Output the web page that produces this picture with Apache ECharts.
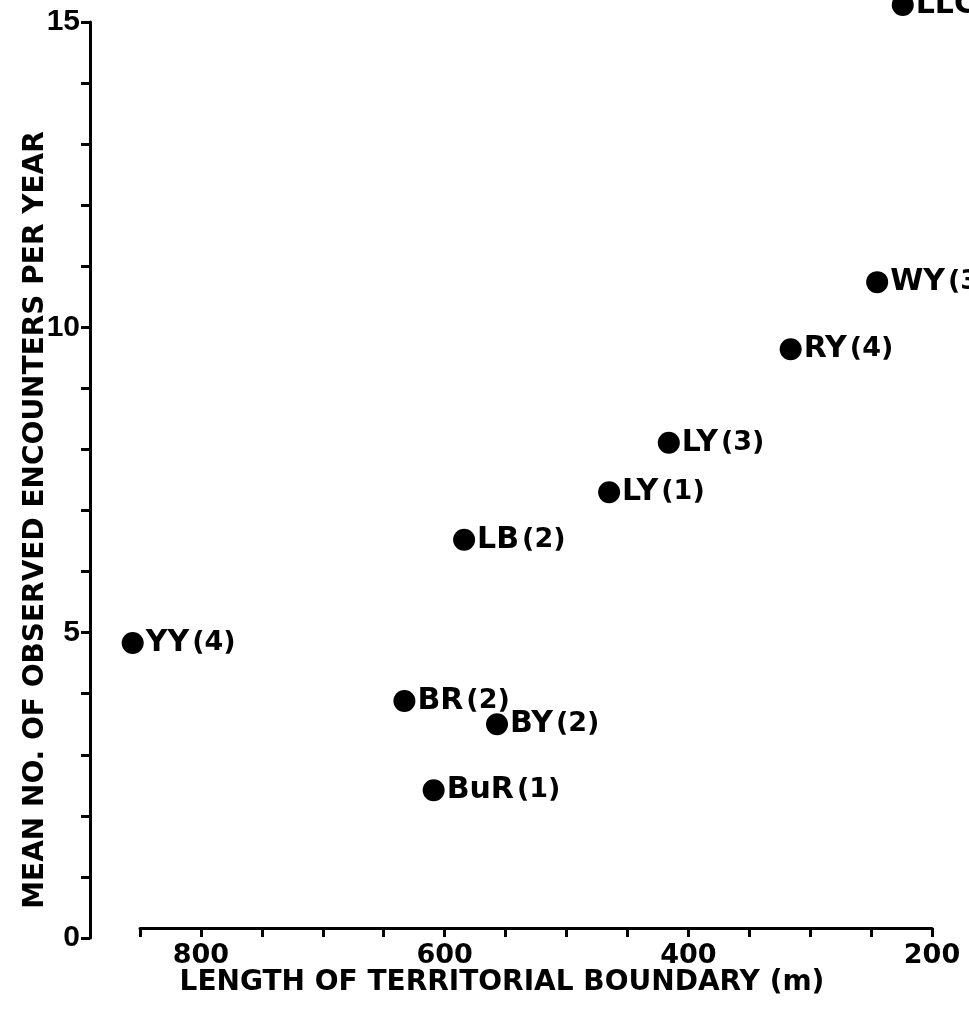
<!DOCTYPE html>
<html>
<head>
<meta charset="utf-8">
<style>
  html, body { margin: 0; padding: 0; background: #fff; }
  #chart { width: 969px; height: 1022px; }
</style>
<script src="https://cdn.jsdelivr.net/npm/echarts@6/dist/echarts.min.js"></script>
</head>
<body>
<div id="chart"></div>
<script>
// Territory codes, boundary length (m), mean encounters per year, and number of years
const territories = ['LLC', 'WY', 'RY', 'LY', 'LY', 'LB', 'YY', 'BR', 'BY', 'BuR'];
const years       = ['',    '3',  '4',  '3',  '1',  '2',  '4',  '2',  '2',  '1'];
const boundaryLength = [224, 245, 316, 416, 465, 584, 856, 633, 557, 609];
const encounters     = [15.28, 10.74, 9.64, 8.11, 7.30, 6.52, 4.83, 3.88, 3.50, 2.42];

const xTickLabels = [200, 400, 600, 800];
const yTickLabels = [0, 5, 10, 15];

const FONT = '"DejaVu Sans", sans-serif';
const NUM_FONT = '"Liberation Sans", Arial, sans-serif';

const points = boundaryLength.map((x, i) => ({
  value: [x, encounters[i]],
  name: territories[i],
  years: years[i]
}));

const chart = echarts.init(document.getElementById('chart'), null, { renderer: 'canvas' });

chart.setOption({
  backgroundColor: '#ffffff',
  animation: false,
  grid: { left: 140, right: 37, top: 22, bottom: 84 },
  xAxis: {
    type: 'value',
    inverse: true,
    min: 200,
    max: 850,
    interval: 50,
    offset: -10,
    splitLine: { show: false },
    axisLine: { show: true, onZero: false, lineStyle: { color: '#000', width: 3 } },
    axisTick: { show: true, inside: false, length: 9, lineStyle: { color: '#000', width: 3 } },
    axisLabel: {
      margin: 14,
      color: '#000',
      fontFamily: FONT,
      fontWeight: 'bold',
      fontSize: 27,
      formatter: v => xTickLabels.includes(v) ? String(v) : ''
    }
  },
  yAxis: {
    type: 'value',
    min: 0,
    max: 15,
    interval: 1,
    offset: 50,
    splitLine: { show: false },
    axisLine: { show: true, onZero: false, lineStyle: { color: '#000', width: 3 } },
    axisTick: { show: true, inside: false, length: 9, lineStyle: { color: '#000', width: 3 } },
    axisLabel: {
      margin: 10,
      color: '#000',
      fontFamily: NUM_FONT,
      fontWeight: 'bold',
      fontSize: 30,
      formatter: v => yTickLabels.includes(v) ? String(v) : ''
    }
  },
  graphic: [
    {
      type: 'text',
      x: 36, y: 520,
      rotation: Math.PI / 2,
      style: {
        text: 'MEAN NO. OF OBSERVED ENCOUNTERS PER YEAR',
        fill: '#000',
        font: 'bold 28px ' + FONT,
        align: 'center',
        verticalAlign: 'middle'
      }
    },
    {
      type: 'text',
      x: 502, y: 983,
      style: {
        text: 'LENGTH OF TERRITORIAL BOUNDARY (m)',
        fill: '#000',
        font: 'bold 28px ' + FONT,
        align: 'center',
        verticalAlign: 'middle'
      }
    }
  ],
  series: [{
    type: 'scatter',
    clip: false,
    symbol: 'circle',
    symbolSize: 22,
    itemStyle: { color: '#000', opacity: 1 },
    data: points,
    label: {
      show: true,
      position: 'right',
      distance: 2,
      color: '#000',
      formatter: p => p.data.years ? '{n|' + p.data.name + '}{y|(' + p.data.years + ')}' : '{n|' + p.data.name + '}',
      rich: {
        n: { fontFamily: FONT, fontWeight: 'bold', fontSize: 30, color: '#000' },
        y: { fontFamily: FONT, fontWeight: 'bold', fontSize: 27, color: '#000', padding: [0, 0, 0, 3] }
      }
    }
  }]
});
</script>
</body>
</html>
